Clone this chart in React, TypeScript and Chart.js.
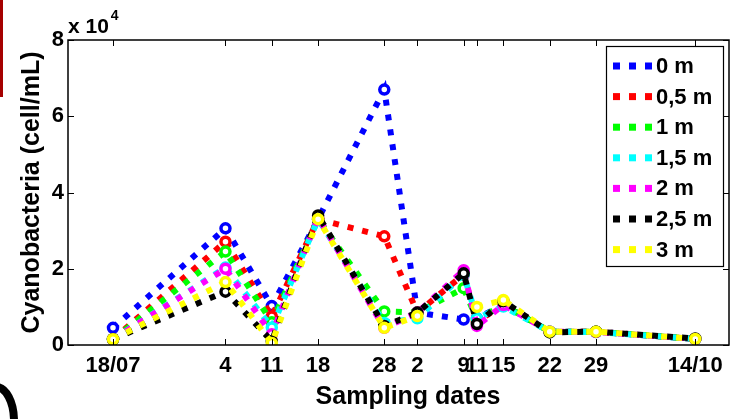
import React, { useEffect, useRef } from 'react';
import { Chart, registerables } from 'chart.js';

Chart.register(...registerables);

// Days since 18/07
const sampleDays = [0, 17, 24, 31, 41, 46, 53, 55, 59, 66, 73, 88];
const dateLabels = ['18/07', '4', '11', '18', '28', '2', '9', '11', '15', '22', '29', '14/10'];
const yTickValues = [0, 20000, 40000, 60000, 80000];

const depthLabels = ['0 m', '0,5 m', '1 m', '1,5 m', '2 m', '2,5 m', '3 m'];
const depthColors = ['#0000ff', '#ff0000', '#00ff00', '#00ffff', '#ff00ff', '#000000', '#ffff00'];

const depth0 = [4500, 30600, 10200, 33000, 67000, 8500, 6700, 7000, 10500, 3500, 3500, 1600];
const depth05 = [1500, 27100, 7500, 33000, 28500, 8500, 18500, 6200, 10500, 3500, 3500, 1600];
const depth1 = [1500, 24500, 6000, 33000, 8800, 8500, 14900, 6700, 10500, 3500, 3500, 1600];
const depth15 = [1500, 20300, 4600, 33000, 5800, 7000, 18500, 7000, 10100, 3500, 3400, 1600];
const depth2 = [1500, 20000, 2800, 33500, 4500, 8500, 19600, 5000, 10500, 3500, 3400, 1600];
const depth25 = [1500, 14000, 1000, 34000, 5000, 8500, 18800, 5500, 11500, 3300, 3500, 1700];
const depth3 = [1500, 16500, 500, 33000, 4500, 7600, null, 10000, 11800, 3500, 3500, 1600];

const seriesValues = [depth0, depth05, depth1, depth15, depth2, depth25, depth3];

const FONT = 'Liberation Sans, Arial, sans-serif';

const decorPlugin = {
  id: 'decor',
  afterDraw(chart: any) {
    const ctx = chart.ctx as CanvasRenderingContext2D;
    const { left, right, top, bottom } = chart.chartArea;
    const xs = chart.scales.x;
    const ys = chart.scales.y;
    ctx.save();

    // frame
    ctx.strokeStyle = '#000';
    ctx.lineWidth = 1.5;
    ctx.strokeRect(left, top, right - left, bottom - top);

    // inward ticks
    ctx.lineWidth = 1;
    ctx.beginPath();
    sampleDays.forEach((d) => {
      const px = Math.round(xs.getPixelForValue(d)) + 0.5;
      ctx.moveTo(px, bottom);
      ctx.lineTo(px, bottom - 6);
      ctx.moveTo(px, top);
      ctx.lineTo(px, top + 6);
    });
    yTickValues.forEach((v) => {
      const py = Math.round(ys.getPixelForValue(v)) + 0.5;
      ctx.moveTo(left, py);
      ctx.lineTo(left + 6, py);
      ctx.moveTo(right, py);
      ctx.lineTo(right - 6, py);
    });
    ctx.stroke();

    // exponent label
    ctx.fillStyle = '#000';
    ctx.textBaseline = 'alphabetic';
    ctx.textAlign = 'left';
    ctx.font = `bold 21px ${FONT}`;
    const base = 'x 10';
    ctx.fillText(base, left, 33);
    const w = ctx.measureText(base).width;
    ctx.font = `bold 14px ${FONT}`;
    ctx.fillText('4', left + w + 2, 20);

    // x title
    ctx.font = `bold 25px ${FONT}`;
    ctx.textAlign = 'center';
    ctx.fillText('Sampling dates', 408, 404);

    // legend
    const lx = 606, ly = 46, lw = 117, lh = 220;
    ctx.fillStyle = '#fff';
    ctx.fillRect(lx, ly, lw, lh);
    ctx.strokeStyle = '#000';
    ctx.lineWidth = 1.2;
    ctx.strokeRect(lx + 0.5, ly + 0.5, lw, lh);
    ctx.font = `bold 22px ${FONT}`;
    ctx.textAlign = 'left';
    ctx.textBaseline = 'middle';
    depthLabels.forEach((lab, i) => {
      const cy = 66 + i * 30.6;
      ctx.fillStyle = depthColors[i];
      for (let k = 0; k < 3; k++) {
        ctx.fillRect(613 + k * 16, cy - 3.5, 7, 7);
      }
      ctx.fillStyle = '#000';
      ctx.fillText(lab, 656, cy + 1);
    });

    // edge artifacts from the source image
    ctx.fillStyle = '#a50000';
    ctx.fillRect(0, 0, 3, 97);
    ctx.strokeStyle = '#000';
    ctx.lineWidth = 8;
    ctx.beginPath();
    ctx.ellipse(-4, 421, 18, 34, 0, -Math.PI / 2, 0.1);
    ctx.stroke();

    ctx.restore();
  },
};

export default function App() {
  const canvasRef = useRef<HTMLCanvasElement | null>(null);

  useEffect(() => {
    const canvas = canvasRef.current;
    if (!canvas) return;
    const datasets = seriesValues.map((vals, i) => ({
      label: depthLabels[i],
      data: sampleDays.map((d, j) => ({ x: d, y: vals[j] })),
      borderColor: depthColors[i],
      backgroundColor: depthColors[i],
      borderWidth: 6,
      borderDash: [6, 9],
      borderCapStyle: 'butt' as const,
      pointRadius: 4.5,
      pointBorderWidth: 3.5,
      pointBorderColor: depthColors[i],
      pointBackgroundColor: '#ffffff',
      pointStyle: 'circle' as const,
      tension: 0,
      spanGaps: false,
      fill: false,
      order: seriesValues.length - i,
    }));

    const chart = new Chart(canvas, {
      type: 'line',
      data: { datasets },
      options: {
        responsive: false,
        animation: false,
        layout: { padding: { top: 40, right: 11, left: 0, bottom: 0 } },
        plugins: {
          legend: { display: false },
          tooltip: { enabled: false },
        },
        scales: {
          x: {
            type: 'linear',
            min: -6.8,
            max: 93.1,
            afterBuildTicks: (s: any) => {
              s.ticks = sampleDays.map((v) => ({ value: v }));
            },
            afterFit: (s: any) => {
              s.height = 74;
            },
            ticks: {
              autoSkip: false,
              maxRotation: 0,
              minRotation: 0,
              padding: 8,
              color: '#000',
              font: { family: FONT, size: 22, weight: 'bold' },
              callback: (v: any) => {
                const idx = sampleDays.indexOf(Number(v));
                return idx >= 0 ? dateLabels[idx] : '';
              },
            },
            grid: { display: false, drawTicks: false },
            border: { display: false },
          },
          y: {
            type: 'linear',
            min: 0,
            max: 80000,
            afterBuildTicks: (s: any) => {
              s.ticks = yTickValues.map((v) => ({ value: v }));
            },
            afterFit: (s: any) => {
              s.width = 68;
            },
            ticks: {
              padding: 4,
              color: '#000',
              font: { family: FONT, size: 22, weight: 'bold' },
              callback: (v: any) => String(Number(v) / 10000),
            },
            grid: { display: false, drawTicks: false },
            border: { display: false },
            title: {
              display: true,
              text: 'Cyanobacteria (cell/mL)',
              color: '#000',
              font: { family: FONT, size: 25, weight: 'bold' },
              padding: { top: 17, bottom: 0 },
            },
          },
        },
      },
      plugins: [decorPlugin],
    });
    return () => chart.destroy();
  }, []);

  return (
    <div style={{ position: 'absolute', left: 0, top: 0, width: 740, height: 419, background: '#fff' }}>
      <canvas ref={canvasRef} width={740} height={419} style={{ display: 'block' }} />
    </div>
  );
}
